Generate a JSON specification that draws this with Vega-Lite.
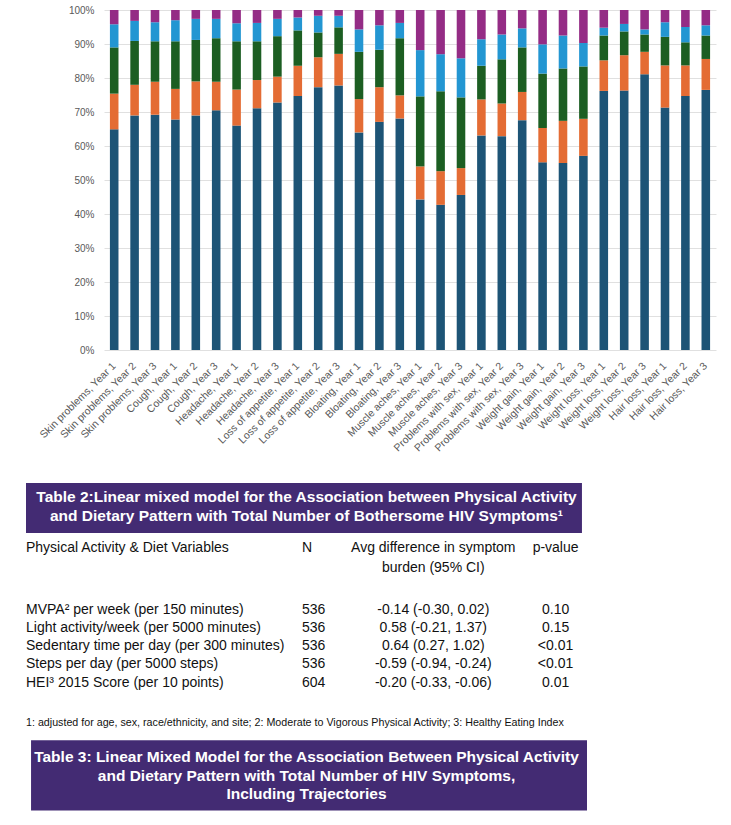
{
  "$schema": "https://vega.github.io/schema/vega-lite/v6.json",
  "padding": {"left": 26, "top": 5, "right": 5, "bottom": 5},
  "bounds": "flush",
  "spacing": 132,
  "config": {"view": {"stroke": null}, "font": "Liberation Sans"},
  "resolve": {"scale": {"x": "independent", "y": "independent"}},
  "datasets": {
    "symptoms": [
      {"item":"Skin problems, Year 1","level":1,"pct":64.9},{"item":"Skin problems, Year 1","level":2,"pct":10.5},{"item":"Skin problems, Year 1","level":3,"pct":13.6},{"item":"Skin problems, Year 1","level":4,"pct":6.8},{"item":"Skin problems, Year 1","level":5,"pct":4.2},
      {"item":"Skin problems, Year 2","level":1,"pct":69.0},{"item":"Skin problems, Year 2","level":2,"pct":9.0},{"item":"Skin problems, Year 2","level":3,"pct":12.9},{"item":"Skin problems, Year 2","level":4,"pct":5.9},{"item":"Skin problems, Year 2","level":5,"pct":3.2},
      {"item":"Skin problems, Year 3","level":1,"pct":69.2},{"item":"Skin problems, Year 3","level":2,"pct":9.7},{"item":"Skin problems, Year 3","level":3,"pct":11.9},{"item":"Skin problems, Year 3","level":4,"pct":5.6},{"item":"Skin problems, Year 3","level":5,"pct":3.6},
      {"item":"Cough, Year 1","level":1,"pct":67.8},{"item":"Cough, Year 1","level":2,"pct":9.0},{"item":"Cough, Year 1","level":3,"pct":14.0},{"item":"Cough, Year 1","level":4,"pct":6.2},{"item":"Cough, Year 1","level":5,"pct":3.0},
      {"item":"Cough, Year 2","level":1,"pct":69.0},{"item":"Cough, Year 2","level":2,"pct":10.0},{"item":"Cough, Year 2","level":3,"pct":12.2},{"item":"Cough, Year 2","level":4,"pct":6.2},{"item":"Cough, Year 2","level":5,"pct":2.6},
      {"item":"Cough, Year 3","level":1,"pct":70.5},{"item":"Cough, Year 3","level":2,"pct":8.4},{"item":"Cough, Year 3","level":3,"pct":12.8},{"item":"Cough, Year 3","level":4,"pct":5.7},{"item":"Cough, Year 3","level":5,"pct":2.6},
      {"item":"Headache, Year 1","level":1,"pct":66.0},{"item":"Headache, Year 1","level":2,"pct":10.6},{"item":"Headache, Year 1","level":3,"pct":14.2},{"item":"Headache, Year 1","level":4,"pct":5.3},{"item":"Headache, Year 1","level":5,"pct":3.9},
      {"item":"Headache, Year 2","level":1,"pct":71.1},{"item":"Headache, Year 2","level":2,"pct":8.3},{"item":"Headache, Year 2","level":3,"pct":11.4},{"item":"Headache, Year 2","level":4,"pct":5.4},{"item":"Headache, Year 2","level":5,"pct":3.8},
      {"item":"Headache, Year 3","level":1,"pct":72.8},{"item":"Headache, Year 3","level":2,"pct":7.6},{"item":"Headache, Year 3","level":3,"pct":11.9},{"item":"Headache, Year 3","level":4,"pct":5.1},{"item":"Headache, Year 3","level":5,"pct":2.6},
      {"item":"Loss of appetite, Year 1","level":1,"pct":74.7},{"item":"Loss of appetite, Year 1","level":2,"pct":8.9},{"item":"Loss of appetite, Year 1","level":3,"pct":10.4},{"item":"Loss of appetite, Year 1","level":4,"pct":3.8},{"item":"Loss of appetite, Year 1","level":5,"pct":2.2},
      {"item":"Loss of appetite, Year 2","level":1,"pct":77.3},{"item":"Loss of appetite, Year 2","level":2,"pct":8.8},{"item":"Loss of appetite, Year 2","level":3,"pct":7.3},{"item":"Loss of appetite, Year 2","level":4,"pct":4.9},{"item":"Loss of appetite, Year 2","level":5,"pct":1.7},
      {"item":"Loss of appetite, Year 3","level":1,"pct":77.8},{"item":"Loss of appetite, Year 3","level":2,"pct":9.3},{"item":"Loss of appetite, Year 3","level":3,"pct":7.8},{"item":"Loss of appetite, Year 3","level":4,"pct":3.4},{"item":"Loss of appetite, Year 3","level":5,"pct":1.7},
      {"item":"Bloating, Year 1","level":1,"pct":64.0},{"item":"Bloating, Year 1","level":2,"pct":9.8},{"item":"Bloating, Year 1","level":3,"pct":13.9},{"item":"Bloating, Year 1","level":4,"pct":6.6},{"item":"Bloating, Year 1","level":5,"pct":5.7},
      {"item":"Bloating, Year 2","level":1,"pct":67.1},{"item":"Bloating, Year 2","level":2,"pct":10.2},{"item":"Bloating, Year 2","level":3,"pct":11.0},{"item":"Bloating, Year 2","level":4,"pct":7.2},{"item":"Bloating, Year 2","level":5,"pct":4.5},
      {"item":"Bloating, Year 3","level":1,"pct":68.1},{"item":"Bloating, Year 3","level":2,"pct":6.8},{"item":"Bloating, Year 3","level":3,"pct":16.8},{"item":"Bloating, Year 3","level":4,"pct":4.5},{"item":"Bloating, Year 3","level":5,"pct":3.8},
      {"item":"Muscle aches, Year 1","level":1,"pct":44.3},{"item":"Muscle aches, Year 1","level":2,"pct":9.7},{"item":"Muscle aches, Year 1","level":3,"pct":20.6},{"item":"Muscle aches, Year 1","level":4,"pct":13.6},{"item":"Muscle aches, Year 1","level":5,"pct":11.8},
      {"item":"Muscle aches, Year 2","level":1,"pct":42.7},{"item":"Muscle aches, Year 2","level":2,"pct":9.9},{"item":"Muscle aches, Year 2","level":3,"pct":23.5},{"item":"Muscle aches, Year 2","level":4,"pct":10.9},{"item":"Muscle aches, Year 2","level":5,"pct":13.0},
      {"item":"Muscle aches, Year 3","level":1,"pct":45.6},{"item":"Muscle aches, Year 3","level":2,"pct":7.9},{"item":"Muscle aches, Year 3","level":3,"pct":20.8},{"item":"Muscle aches, Year 3","level":4,"pct":11.5},{"item":"Muscle aches, Year 3","level":5,"pct":14.2},
      {"item":"Problems with sex, Year 1","level":1,"pct":63.1},{"item":"Problems with sex, Year 1","level":2,"pct":10.6},{"item":"Problems with sex, Year 1","level":3,"pct":9.9},{"item":"Problems with sex, Year 1","level":4,"pct":7.8},{"item":"Problems with sex, Year 1","level":5,"pct":8.6},
      {"item":"Problems with sex, Year 2","level":1,"pct":62.9},{"item":"Problems with sex, Year 2","level":2,"pct":9.6},{"item":"Problems with sex, Year 2","level":3,"pct":13.0},{"item":"Problems with sex, Year 2","level":4,"pct":7.3},{"item":"Problems with sex, Year 2","level":5,"pct":7.2},
      {"item":"Problems with sex, Year 3","level":1,"pct":67.6},{"item":"Problems with sex, Year 3","level":2,"pct":8.3},{"item":"Problems with sex, Year 3","level":3,"pct":13.1},{"item":"Problems with sex, Year 3","level":4,"pct":5.6},{"item":"Problems with sex, Year 3","level":5,"pct":5.4},
      {"item":"Weight gain, Year 1","level":1,"pct":55.2},{"item":"Weight gain, Year 1","level":2,"pct":10.1},{"item":"Weight gain, Year 1","level":3,"pct":16.0},{"item":"Weight gain, Year 1","level":4,"pct":8.6},{"item":"Weight gain, Year 1","level":5,"pct":10.1},
      {"item":"Weight gain, Year 2","level":1,"pct":55.0},{"item":"Weight gain, Year 2","level":2,"pct":12.4},{"item":"Weight gain, Year 2","level":3,"pct":15.4},{"item":"Weight gain, Year 2","level":4,"pct":9.7},{"item":"Weight gain, Year 2","level":5,"pct":7.5},
      {"item":"Weight gain, Year 3","level":1,"pct":57.1},{"item":"Weight gain, Year 3","level":2,"pct":10.9},{"item":"Weight gain, Year 3","level":3,"pct":15.4},{"item":"Weight gain, Year 3","level":4,"pct":6.9},{"item":"Weight gain, Year 3","level":5,"pct":9.7},
      {"item":"Weight loss, Year 1","level":1,"pct":76.2},{"item":"Weight loss, Year 1","level":2,"pct":9.0},{"item":"Weight loss, Year 1","level":3,"pct":7.3},{"item":"Weight loss, Year 1","level":4,"pct":2.3},{"item":"Weight loss, Year 1","level":5,"pct":5.2},
      {"item":"Weight loss, Year 2","level":1,"pct":76.3},{"item":"Weight loss, Year 2","level":2,"pct":10.4},{"item":"Weight loss, Year 2","level":3,"pct":7.0},{"item":"Weight loss, Year 2","level":4,"pct":2.2},{"item":"Weight loss, Year 2","level":5,"pct":4.1},
      {"item":"Weight loss, Year 3","level":1,"pct":81.1},{"item":"Weight loss, Year 3","level":2,"pct":6.6},{"item":"Weight loss, Year 3","level":3,"pct":5.1},{"item":"Weight loss, Year 3","level":4,"pct":1.5},{"item":"Weight loss, Year 3","level":5,"pct":5.7},
      {"item":"Hair loss, Year 1","level":1,"pct":71.3},{"item":"Hair loss, Year 1","level":2,"pct":12.4},{"item":"Hair loss, Year 1","level":3,"pct":8.4},{"item":"Hair loss, Year 1","level":4,"pct":4.3},{"item":"Hair loss, Year 1","level":5,"pct":3.6},
      {"item":"Hair loss, Year 2","level":1,"pct":74.7},{"item":"Hair loss, Year 2","level":2,"pct":9.0},{"item":"Hair loss, Year 2","level":3,"pct":6.8},{"item":"Hair loss, Year 2","level":4,"pct":4.5},{"item":"Hair loss, Year 2","level":5,"pct":5.0},
      {"item":"Hair loss, Year 3","level":1,"pct":76.5},{"item":"Hair loss, Year 3","level":2,"pct":9.1},{"item":"Hair loss, Year 3","level":3,"pct":6.9},{"item":"Hair loss, Year 3","level":4,"pct":3.0},{"item":"Hair loss, Year 3","level":5,"pct":4.5}
    ],
    "titles": [
      {"table":"Table 2","line":0.84,"text":"Table 2:Linear mixed model for the Association between Physical Activity"},
      {"table":"Table 2","line":1.88,"text":"and Dietary Pattern with Total Number of Bothersome HIV Symptoms¹"},
      {"table":"Table 3","line":15.09,"text":"Table 3: Linear Mixed Model for the Association Between Physical Activity"},
      {"table":"Table 3","line":16.13,"text":"and Dietary Pattern with Total Number of HIV Symptoms,"},
      {"table":"Table 3","line":17.1,"text":"Including Trajectories"}
    ],
    "cells": [
      {"line":3.62,"col":"variable","text":"Physical Activity & Diet Variables"},
      {"line":3.62,"col":"n","text":"N"},
      {"line":3.62,"col":"ci","text":"Avg difference in symptom"},
      {"line":4.71,"col":"ci","text":"burden (95% CI)"},
      {"line":3.62,"col":"p","text":"p-value"},
      {"line":7,"col":"variable","text":"MVPA² per week (per 150 minutes)"},
      {"line":7,"col":"n","text":"536"},
      {"line":7,"col":"ci","text":"-0.14 (-0.30, 0.02)"},
      {"line":7,"col":"p","text":"0.10"},
      {"line":8,"col":"variable","text":"Light activity/week (per 5000 minutes)"},
      {"line":8,"col":"n","text":"536"},
      {"line":8,"col":"ci","text":"0.58 (-0.21, 1.37)"},
      {"line":8,"col":"p","text":"0.15"},
      {"line":9,"col":"variable","text":"Sedentary time per day (per 300 minutes)"},
      {"line":9,"col":"n","text":"536"},
      {"line":9,"col":"ci","text":"0.64 (0.27, 1.02)"},
      {"line":9,"col":"p","text":"<0.01"},
      {"line":10,"col":"variable","text":"Steps per day (per 5000 steps)"},
      {"line":10,"col":"n","text":"536"},
      {"line":10,"col":"ci","text":"-0.59 (-0.94, -0.24)"},
      {"line":10,"col":"p","text":"<0.01"},
      {"line":11,"col":"variable","text":"HEI³ 2015 Score (per 10 points)"},
      {"line":11,"col":"n","text":"604"},
      {"line":11,"col":"ci","text":"-0.20 (-0.33, -0.06)"},
      {"line":11,"col":"p","text":"0.01"},
      {"line":13.19,"col":"note","text":"1: adjusted for age, sex, race/ethnicity, and site; 2: Moderate to Vigorous Physical Activity; 3: Healthy Eating Index"}
    ]
  },
  "vconcat": [
    {
      "width": 612,
      "height": 340,
      "data": {"name": "symptoms"},
      "mark": {"type": "bar"},
      "encoding": {
        "x": {
          "field": "item", "type": "nominal", "sort": null,
          "scale": {"paddingInner": 0.58, "paddingOuter": 0.29},
          "axis": {"title": null, "labelAngle": -45, "labelAlign": "right", "labelBaseline": "middle", "labelPadding": 14, "labelFontSize": 10.5, "labelColor": "#595959", "labelOverlap": false, "labelLimit": 300, "ticks": false, "domain": false, "grid": false}
        },
        "y": {
          "field": "pct", "type": "quantitative", "stack": "normalize",
          "scale": {"domain": [0, 1]},
          "axis": {"title": null, "format": ".0%", "values": [0, 0.1, 0.2, 0.3, 0.4, 0.5, 0.6, 0.7, 0.8, 0.9, 1], "labelColor": "#595959", "labelFontSize": 10, "labelPadding": 10, "ticks": false, "domain": false, "gridColor": "#e0e0e0", "gridWidth": 1}
        },
        "color": {
          "field": "level", "type": "ordinal",
          "scale": {"domain": [1, 2, 3, 4, 5], "range": ["#1D5476", "#E46C34", "#1C5E22", "#2396D2", "#942C85"]},
          "legend": null
        },
        "order": {"field": "level", "type": "quantitative", "sort": "ascending"}
      }
    },
    {
      "width": 612,
      "height": 332,
      "layer": [
        {
          "data": {"values": [{"table": "Table 2"}]},
          "mark": {"type": "rect", "color": "#432B73"},
          "encoding": {
            "x": {"datum": 0, "type": "quantitative", "scale": {"domain": [0, 100], "range": [-78, 483], "nice": false, "zero": false}, "axis": null},
            "x2": {"datum": 99.1},
            "y": {"datum": 0.06, "type": "quantitative", "scale": {"domain": [0, 18.2], "reverse": true, "nice": false, "zero": false}, "axis": null},
            "y2": {"datum": 2.8}
          }
        },
        {
          "data": {"values": [{"table": "Table 3"}]},
          "mark": {"type": "rect", "color": "#432B73"},
          "encoding": {
            "x": {"datum": 0.9, "type": "quantitative", "scale": {"domain": [0, 100], "range": [-78, 483], "nice": false, "zero": false}, "axis": null},
            "x2": {"datum": 100},
            "y": {"datum": 14.16, "type": "quantitative", "scale": {"domain": [0, 18.2], "reverse": true, "nice": false, "zero": false}, "axis": null},
            "y2": {"datum": 18.01}
          }
        },
        {
          "data": {"name": "titles"},
          "mark": {"type": "text", "font": "Liberation Sans", "fontWeight": "bold", "fontSize": 15.5, "color": "#ffffff", "align": "center", "baseline": "middle"},
          "encoding": {
            "x": {"datum": 50, "type": "quantitative", "scale": {"domain": [0, 100], "range": [-78, 483], "nice": false, "zero": false}, "axis": null},
            "y": {"field": "line", "type": "quantitative", "scale": {"domain": [0, 18.2], "reverse": true, "nice": false, "zero": false}, "axis": null},
            "text": {"field": "text", "type": "nominal"}
          }
        },
        {
          "data": {"name": "cells"},
          "transform": [{"filter": "datum.col === 'variable'"}],
          "mark": {"type": "text", "font": "Liberation Sans", "fontSize": 14, "color": "#111111", "align": "left", "baseline": "middle"},
          "encoding": {
            "x": {"datum": 0, "type": "quantitative", "scale": {"domain": [0, 100], "range": [-78, 483], "nice": false, "zero": false}, "axis": null},
            "y": {"field": "line", "type": "quantitative", "scale": {"domain": [0, 18.2], "reverse": true, "nice": false, "zero": false}, "axis": null},
            "text": {"field": "text", "type": "nominal"}
          }
        },
        {
          "data": {"name": "cells"},
          "transform": [{"filter": "datum.col === 'n'"}],
          "mark": {"type": "text", "font": "Liberation Sans", "fontSize": 14, "color": "#111111", "align": "left", "baseline": "middle"},
          "encoding": {
            "x": {"datum": 49.2, "type": "quantitative", "scale": {"domain": [0, 100], "range": [-78, 483], "nice": false, "zero": false}, "axis": null},
            "y": {"field": "line", "type": "quantitative", "scale": {"domain": [0, 18.2], "reverse": true, "nice": false, "zero": false}, "axis": null},
            "text": {"field": "text", "type": "nominal"}
          }
        },
        {
          "data": {"name": "cells"},
          "transform": [{"filter": "datum.col === 'ci'"}],
          "mark": {"type": "text", "font": "Liberation Sans", "fontSize": 14, "color": "#111111", "align": "center", "baseline": "middle"},
          "encoding": {
            "x": {"datum": 72.6, "type": "quantitative", "scale": {"domain": [0, 100], "range": [-78, 483], "nice": false, "zero": false}, "axis": null},
            "y": {"field": "line", "type": "quantitative", "scale": {"domain": [0, 18.2], "reverse": true, "nice": false, "zero": false}, "axis": null},
            "text": {"field": "text", "type": "nominal"}
          }
        },
        {
          "data": {"name": "cells"},
          "transform": [{"filter": "datum.col === 'p'"}],
          "mark": {"type": "text", "font": "Liberation Sans", "fontSize": 14, "color": "#111111", "align": "center", "baseline": "middle"},
          "encoding": {
            "x": {"datum": 94.4, "type": "quantitative", "scale": {"domain": [0, 100], "range": [-78, 483], "nice": false, "zero": false}, "axis": null},
            "y": {"field": "line", "type": "quantitative", "scale": {"domain": [0, 18.2], "reverse": true, "nice": false, "zero": false}, "axis": null},
            "text": {"field": "text", "type": "nominal"}
          }
        },
        {
          "data": {"name": "cells"},
          "transform": [{"filter": "datum.col === 'note'"}],
          "mark": {"type": "text", "font": "Liberation Sans", "fontSize": 10.7, "color": "#111111", "align": "left", "baseline": "middle"},
          "encoding": {
            "x": {"datum": 0, "type": "quantitative", "scale": {"domain": [0, 100], "range": [-78, 483], "nice": false, "zero": false}, "axis": null},
            "y": {"field": "line", "type": "quantitative", "scale": {"domain": [0, 18.2], "reverse": true, "nice": false, "zero": false}, "axis": null},
            "text": {"field": "text", "type": "nominal"}
          }
        }
      ]
    }
  ]
}
